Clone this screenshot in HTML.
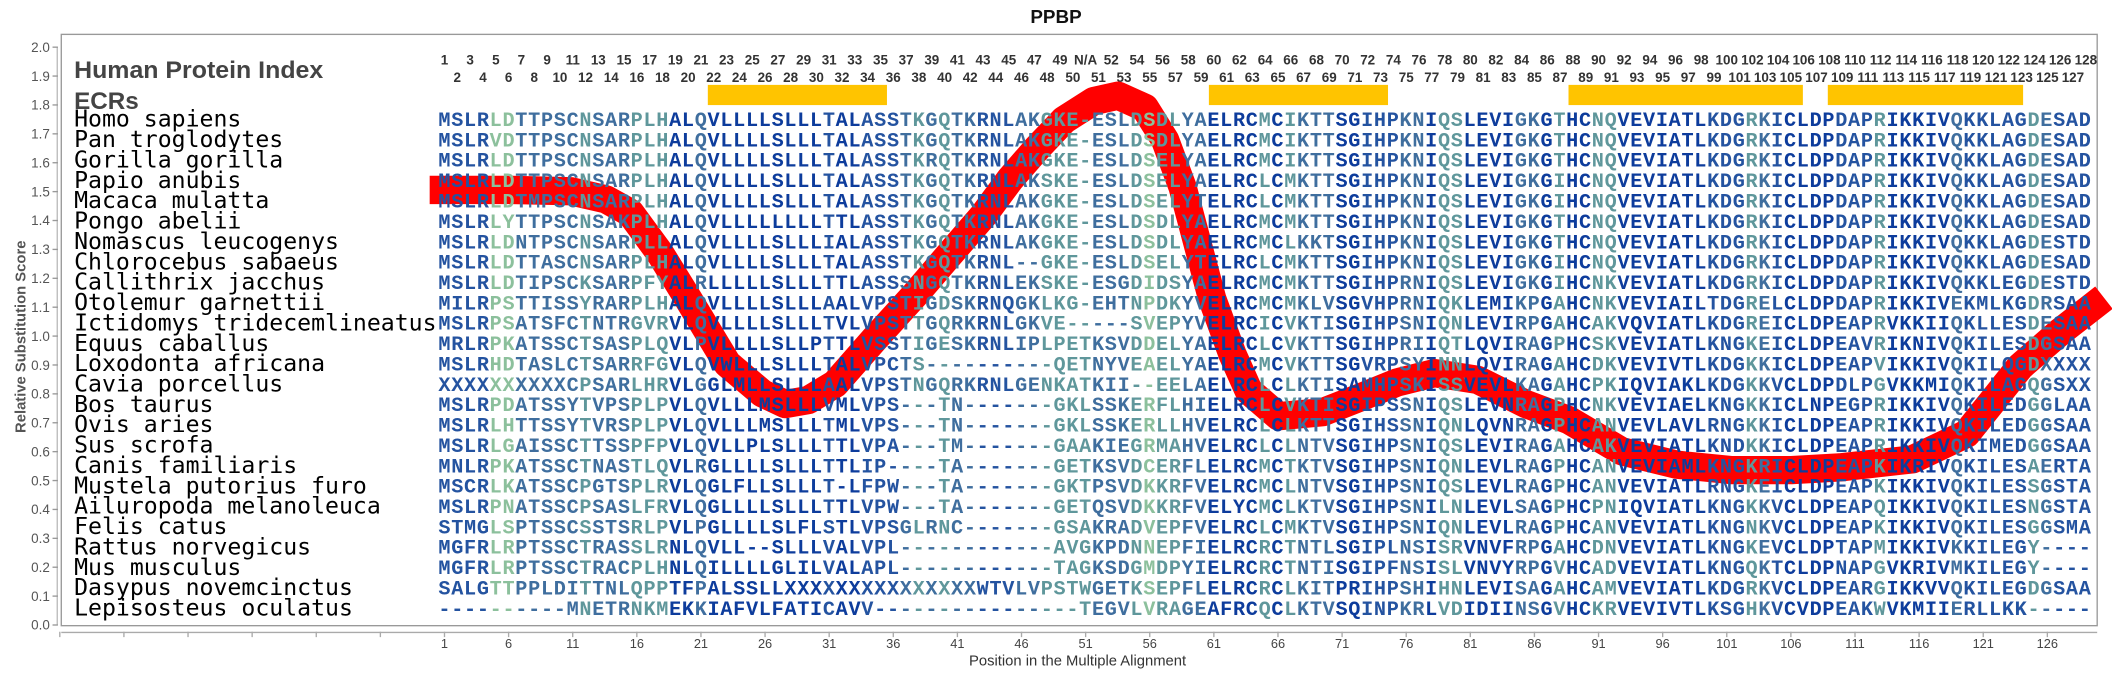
<!DOCTYPE html>
<html><head><meta charset="utf-8"><style>
html,body{margin:0;padding:0;background:#fff;}
svg{display:block;}
.seq{font-family:"Liberation Mono","DejaVu Sans Mono",monospace;font-weight:bold;font-size:15px;letter-spacing:0.52px;fill:url(#cg);}
.nm{font-family:"DejaVu Sans Mono","Liberation Mono",monospace;font-size:17.2px;fill:#000;}
.hn{font-family:"Liberation Sans",sans-serif;font-weight:bold;font-size:10px;fill:#333;text-anchor:middle;}
.yt{font-family:"Liberation Sans",sans-serif;font-size:10px;fill:#555;text-anchor:end;}
.xt{font-family:"Liberation Sans",sans-serif;font-size:9.5px;fill:#444;text-anchor:middle;}
</style></head><body>
<svg width="2112" height="675" viewBox="0 0 1568 501.1" xmlns="http://www.w3.org/2000/svg">
<defs>
<linearGradient id="cg" gradientUnits="userSpaceOnUse" x1="325.5" y1="0" x2="1553.58" y2="0">
<stop offset="0%" stop-color="#2453a0"/><stop offset="3.101%" stop-color="#2453a0"/><stop offset="3.101%" stop-color="#8cc09c"/><stop offset="4.651%" stop-color="#8cc09c"/><stop offset="4.651%" stop-color="#3f6e9e"/><stop offset="8.527%" stop-color="#3f6e9e"/><stop offset="8.527%" stop-color="#5f979b"/><stop offset="9.302%" stop-color="#5f979b"/><stop offset="9.302%" stop-color="#3f6e9e"/><stop offset="11.628%" stop-color="#3f6e9e"/><stop offset="11.628%" stop-color="#5f979b"/><stop offset="13.953%" stop-color="#5f979b"/><stop offset="13.953%" stop-color="#0d3c9c"/><stop offset="15.504%" stop-color="#0d3c9c"/><stop offset="15.504%" stop-color="#3f6e9e"/><stop offset="16.279%" stop-color="#3f6e9e"/><stop offset="16.279%" stop-color="#0d3c9c"/><stop offset="23.256%" stop-color="#0d3c9c"/><stop offset="23.256%" stop-color="#2453a0"/><stop offset="24.031%" stop-color="#2453a0"/><stop offset="24.031%" stop-color="#0d3c9c"/><stop offset="25.581%" stop-color="#0d3c9c"/><stop offset="25.581%" stop-color="#2453a0"/><stop offset="27.907%" stop-color="#2453a0"/><stop offset="27.907%" stop-color="#3f6e9e"/><stop offset="28.682%" stop-color="#3f6e9e"/><stop offset="28.682%" stop-color="#5f979b"/><stop offset="29.457%" stop-color="#5f979b"/><stop offset="29.457%" stop-color="#3f6e9e"/><stop offset="30.233%" stop-color="#3f6e9e"/><stop offset="30.233%" stop-color="#5f979b"/><stop offset="31.008%" stop-color="#5f979b"/><stop offset="31.008%" stop-color="#3f6e9e"/><stop offset="32.558%" stop-color="#3f6e9e"/><stop offset="32.558%" stop-color="#2453a0"/><stop offset="34.884%" stop-color="#2453a0"/><stop offset="34.884%" stop-color="#3f6e9e"/><stop offset="36.434%" stop-color="#3f6e9e"/><stop offset="36.434%" stop-color="#5f979b"/><stop offset="39.535%" stop-color="#5f979b"/><stop offset="39.535%" stop-color="#3f6e9e"/><stop offset="41.860%" stop-color="#3f6e9e"/><stop offset="41.860%" stop-color="#5f979b"/><stop offset="42.636%" stop-color="#5f979b"/><stop offset="42.636%" stop-color="#8cc09c"/><stop offset="43.411%" stop-color="#8cc09c"/><stop offset="43.411%" stop-color="#5f979b"/><stop offset="44.961%" stop-color="#5f979b"/><stop offset="44.961%" stop-color="#3f6e9e"/><stop offset="46.512%" stop-color="#3f6e9e"/><stop offset="46.512%" stop-color="#0d3c9c"/><stop offset="49.612%" stop-color="#0d3c9c"/><stop offset="49.612%" stop-color="#5f979b"/><stop offset="50.388%" stop-color="#5f979b"/><stop offset="50.388%" stop-color="#0d3c9c"/><stop offset="51.163%" stop-color="#0d3c9c"/><stop offset="51.163%" stop-color="#5f979b"/><stop offset="51.938%" stop-color="#5f979b"/><stop offset="51.938%" stop-color="#3f6e9e"/><stop offset="54.264%" stop-color="#3f6e9e"/><stop offset="54.264%" stop-color="#0d3c9c"/><stop offset="55.814%" stop-color="#0d3c9c"/><stop offset="55.814%" stop-color="#2453a0"/><stop offset="58.140%" stop-color="#2453a0"/><stop offset="58.140%" stop-color="#3f6e9e"/><stop offset="59.690%" stop-color="#3f6e9e"/><stop offset="59.690%" stop-color="#0d3c9c"/><stop offset="60.465%" stop-color="#0d3c9c"/><stop offset="60.465%" stop-color="#5f979b"/><stop offset="62.016%" stop-color="#5f979b"/><stop offset="62.016%" stop-color="#0d3c9c"/><stop offset="65.116%" stop-color="#0d3c9c"/><stop offset="65.116%" stop-color="#3f6e9e"/><stop offset="66.667%" stop-color="#3f6e9e"/><stop offset="66.667%" stop-color="#0d3c9c"/><stop offset="67.442%" stop-color="#0d3c9c"/><stop offset="67.442%" stop-color="#5f979b"/><stop offset="68.217%" stop-color="#5f979b"/><stop offset="68.217%" stop-color="#0d3c9c"/><stop offset="69.767%" stop-color="#0d3c9c"/><stop offset="69.767%" stop-color="#5f979b"/><stop offset="71.318%" stop-color="#5f979b"/><stop offset="71.318%" stop-color="#0d3c9c"/><stop offset="76.744%" stop-color="#0d3c9c"/><stop offset="76.744%" stop-color="#2453a0"/><stop offset="79.070%" stop-color="#2453a0"/><stop offset="79.070%" stop-color="#5f979b"/><stop offset="79.845%" stop-color="#5f979b"/><stop offset="79.845%" stop-color="#3f6e9e"/><stop offset="80.620%" stop-color="#3f6e9e"/><stop offset="80.620%" stop-color="#2453a0"/><stop offset="81.395%" stop-color="#2453a0"/><stop offset="81.395%" stop-color="#0d3c9c"/><stop offset="84.496%" stop-color="#0d3c9c"/><stop offset="84.496%" stop-color="#2453a0"/><stop offset="86.822%" stop-color="#2453a0"/><stop offset="86.822%" stop-color="#5f979b"/><stop offset="87.597%" stop-color="#5f979b"/><stop offset="87.597%" stop-color="#0d3c9c"/><stop offset="91.473%" stop-color="#0d3c9c"/><stop offset="91.473%" stop-color="#3f6e9e"/><stop offset="92.248%" stop-color="#3f6e9e"/><stop offset="92.248%" stop-color="#2453a0"/><stop offset="96.124%" stop-color="#2453a0"/><stop offset="96.124%" stop-color="#5f979b"/><stop offset="96.899%" stop-color="#5f979b"/><stop offset="96.899%" stop-color="#3f6e9e"/><stop offset="97.674%" stop-color="#3f6e9e"/><stop offset="97.674%" stop-color="#2453a0"/><stop offset="100%" stop-color="#2453a0"/>
</linearGradient>
</defs>
<rect width="1568" height="501.1" fill="#fff"/>
<text x="784" y="17" text-anchor="middle" font-family="Liberation Sans,sans-serif" font-weight="bold" font-size="14" fill="#111">PPBP</text>
<rect x="45.5" y="25.5" width="1511.5" height="439" fill="none" stroke="#999" stroke-width="1"/>
<line x1="42.5" y1="35" x2="42.5" y2="464" stroke="#bbb"/>
<g stroke="#999">
<line x1="39" y1="35" x2="43" y2="35"/><line x1="39" y1="56.45" x2="43" y2="56.45"/><line x1="39" y1="77.9" x2="43" y2="77.9"/><line x1="39" y1="99.35" x2="43" y2="99.35"/><line x1="39" y1="120.8" x2="43" y2="120.8"/><line x1="39" y1="142.25" x2="43" y2="142.25"/><line x1="39" y1="163.7" x2="43" y2="163.7"/><line x1="39" y1="185.15" x2="43" y2="185.15"/><line x1="39" y1="206.6" x2="43" y2="206.6"/><line x1="39" y1="228.05" x2="43" y2="228.05"/><line x1="39" y1="249.5" x2="43" y2="249.5"/><line x1="39" y1="270.95" x2="43" y2="270.95"/><line x1="39" y1="292.4" x2="43" y2="292.4"/><line x1="39" y1="313.85" x2="43" y2="313.85"/><line x1="39" y1="335.3" x2="43" y2="335.3"/><line x1="39" y1="356.75" x2="43" y2="356.75"/><line x1="39" y1="378.2" x2="43" y2="378.2"/><line x1="39" y1="399.65" x2="43" y2="399.65"/><line x1="39" y1="421.1" x2="43" y2="421.1"/><line x1="39" y1="442.55" x2="43" y2="442.55"/><line x1="39" y1="464" x2="43" y2="464"/>
</g>
<g class="yt">
<text x="37" y="38.5">2.0</text><text x="37" y="60">1.9</text><text x="37" y="81.4">1.8</text><text x="37" y="102.9">1.7</text><text x="37" y="124.3">1.6</text><text x="37" y="145.8">1.5</text><text x="37" y="167.2">1.4</text><text x="37" y="188.7">1.3</text><text x="37" y="210.1">1.2</text><text x="37" y="231.6">1.1</text><text x="37" y="253">1.0</text><text x="37" y="274.5">0.9</text><text x="37" y="295.9">0.8</text><text x="37" y="317.4">0.7</text><text x="37" y="338.8">0.6</text><text x="37" y="360.3">0.5</text><text x="37" y="381.7">0.4</text><text x="37" y="403.2">0.3</text><text x="37" y="424.6">0.2</text><text x="37" y="446.1">0.1</text><text x="37" y="467.5">0.0</text>
</g>
<text transform="translate(19,250) rotate(-90)" text-anchor="middle" font-family="Liberation Sans,sans-serif" font-weight="bold" font-size="11" fill="#555">Relative Substitution Score</text>
<line x1="45.5" y1="469.5" x2="1557" y2="469.5" stroke="#aaa"/>
<g stroke="#aaa">
<line x1="44.4" y1="469" x2="44.4" y2="473"/><line x1="92" y1="469" x2="92" y2="473"/><line x1="139.6" y1="469" x2="139.6" y2="473"/><line x1="187.2" y1="469" x2="187.2" y2="473"/><line x1="234.8" y1="469" x2="234.8" y2="473"/><line x1="282.4" y1="469" x2="282.4" y2="473"/>
<line x1="330" y1="469" x2="330" y2="473"/><line x1="377.6" y1="469" x2="377.6" y2="473"/><line x1="425.2" y1="469" x2="425.2" y2="473"/><line x1="472.8" y1="469" x2="472.8" y2="473"/><line x1="520.4" y1="469" x2="520.4" y2="473"/><line x1="568" y1="469" x2="568" y2="473"/><line x1="615.6" y1="469" x2="615.6" y2="473"/><line x1="663.2" y1="469" x2="663.2" y2="473"/><line x1="710.8" y1="469" x2="710.8" y2="473"/><line x1="758.4" y1="469" x2="758.4" y2="473"/><line x1="806" y1="469" x2="806" y2="473"/><line x1="853.6" y1="469" x2="853.6" y2="473"/><line x1="901.2" y1="469" x2="901.2" y2="473"/><line x1="948.8" y1="469" x2="948.8" y2="473"/><line x1="996.4" y1="469" x2="996.4" y2="473"/><line x1="1044" y1="469" x2="1044" y2="473"/><line x1="1091.6" y1="469" x2="1091.6" y2="473"/><line x1="1139.2" y1="469" x2="1139.2" y2="473"/><line x1="1186.8" y1="469" x2="1186.8" y2="473"/><line x1="1234.4" y1="469" x2="1234.4" y2="473"/><line x1="1282" y1="469" x2="1282" y2="473"/><line x1="1329.6" y1="469" x2="1329.6" y2="473"/><line x1="1377.2" y1="469" x2="1377.2" y2="473"/><line x1="1424.8" y1="469" x2="1424.8" y2="473"/><line x1="1472.4" y1="469" x2="1472.4" y2="473"/><line x1="1520" y1="469" x2="1520" y2="473"/>
</g>
<g class="xt">
<text x="330" y="481">1</text><text x="377.6" y="481">6</text><text x="425.2" y="481">11</text><text x="472.8" y="481">16</text><text x="520.4" y="481">21</text><text x="568" y="481">26</text><text x="615.6" y="481">31</text><text x="663.2" y="481">36</text><text x="710.8" y="481">41</text><text x="758.4" y="481">46</text><text x="806" y="481">51</text><text x="853.6" y="481">56</text><text x="901.2" y="481">61</text><text x="948.8" y="481">66</text><text x="996.4" y="481">71</text><text x="1044" y="481">76</text><text x="1091.6" y="481">81</text><text x="1139.2" y="481">86</text><text x="1186.8" y="481">91</text><text x="1234.4" y="481">96</text><text x="1282" y="481">101</text><text x="1329.6" y="481">106</text><text x="1377.2" y="481">111</text><text x="1424.8" y="481">116</text><text x="1472.4" y="481">121</text><text x="1520" y="481">126</text>
</g>
<text x="800" y="494" text-anchor="middle" font-family="Liberation Sans,sans-serif" font-size="11" fill="#333">Position in the Multiple Alignment</text>
<text x="55" y="58" font-family="Liberation Sans,sans-serif" font-weight="bold" font-size="18" fill="#444" textLength="185" lengthAdjust="spacingAndGlyphs">Human Protein Index</text>
<text x="55" y="81" font-family="Liberation Sans,sans-serif" font-weight="bold" font-size="18" fill="#444">ECRs</text>
<g class="hn">
<text x="330" y="48">1</text><text x="349" y="48">3</text><text x="368.1" y="48">5</text><text x="387.1" y="48">7</text><text x="406.2" y="48">9</text><text x="425.2" y="48">11</text><text x="444.2" y="48">13</text><text x="463.3" y="48">15</text><text x="482.3" y="48">17</text><text x="501.4" y="48">19</text><text x="520.4" y="48">21</text><text x="539.4" y="48">23</text><text x="558.5" y="48">25</text><text x="577.5" y="48">27</text><text x="596.6" y="48">29</text><text x="615.6" y="48">31</text><text x="634.6" y="48">33</text><text x="653.7" y="48">35</text><text x="672.7" y="48">37</text><text x="691.8" y="48">39</text><text x="710.8" y="48">41</text><text x="729.8" y="48">43</text><text x="748.9" y="48">45</text><text x="767.9" y="48">47</text><text x="787" y="48">49</text><text x="806" y="48">N/A</text><text x="825" y="48">52</text><text x="844.1" y="48">54</text><text x="863.1" y="48">56</text><text x="882.2" y="48">58</text><text x="901.2" y="48">60</text><text x="920.2" y="48">62</text><text x="939.3" y="48">64</text><text x="958.3" y="48">66</text><text x="977.4" y="48">68</text><text x="996.4" y="48">70</text><text x="1015.4" y="48">72</text><text x="1034.5" y="48">74</text><text x="1053.5" y="48">76</text><text x="1072.6" y="48">78</text><text x="1091.6" y="48">80</text><text x="1110.6" y="48">82</text><text x="1129.7" y="48">84</text><text x="1148.7" y="48">86</text><text x="1167.8" y="48">88</text><text x="1186.8" y="48">90</text><text x="1205.8" y="48">92</text><text x="1224.9" y="48">94</text><text x="1243.9" y="48">96</text><text x="1263" y="48">98</text><text x="1282" y="48">100</text><text x="1301" y="48">102</text><text x="1320.1" y="48">104</text><text x="1339.1" y="48">106</text><text x="1358.2" y="48">108</text><text x="1377.2" y="48">110</text><text x="1396.2" y="48">112</text><text x="1415.3" y="48">114</text><text x="1434.3" y="48">116</text><text x="1453.4" y="48">118</text><text x="1472.4" y="48">120</text><text x="1491.4" y="48">122</text><text x="1510.5" y="48">124</text><text x="1529.5" y="48">126</text><text x="1548.6" y="48">128</text>
<text x="339.5" y="61">2</text><text x="358.6" y="61">4</text><text x="377.6" y="61">6</text><text x="396.6" y="61">8</text><text x="415.7" y="61">10</text><text x="434.7" y="61">12</text><text x="453.8" y="61">14</text><text x="472.8" y="61">16</text><text x="491.8" y="61">18</text><text x="510.9" y="61">20</text><text x="529.9" y="61">22</text><text x="548.9" y="61">24</text><text x="568" y="61">26</text><text x="587" y="61">28</text><text x="606.1" y="61">30</text><text x="625.1" y="61">32</text><text x="644.1" y="61">34</text><text x="663.2" y="61">36</text><text x="682.2" y="61">38</text><text x="701.3" y="61">40</text><text x="720.3" y="61">42</text><text x="739.3" y="61">44</text><text x="758.4" y="61">46</text><text x="777.4" y="61">48</text><text x="796.5" y="61">50</text><text x="815.5" y="61">51</text><text x="834.5" y="61">53</text><text x="853.6" y="61">55</text><text x="872.6" y="61">57</text><text x="891.7" y="61">59</text><text x="910.7" y="61">61</text><text x="929.7" y="61">63</text><text x="948.8" y="61">65</text><text x="967.8" y="61">67</text><text x="986.9" y="61">69</text><text x="1005.9" y="61">71</text><text x="1024.9" y="61">73</text><text x="1044" y="61">75</text><text x="1063" y="61">77</text><text x="1082.1" y="61">79</text><text x="1101.1" y="61">81</text><text x="1120.1" y="61">83</text><text x="1139.2" y="61">85</text><text x="1158.2" y="61">87</text><text x="1177.3" y="61">89</text><text x="1196.3" y="61">91</text><text x="1215.3" y="61">93</text><text x="1234.4" y="61">95</text><text x="1253.4" y="61">97</text><text x="1272.5" y="61">99</text><text x="1291.5" y="61">101</text><text x="1310.5" y="61">103</text><text x="1329.6" y="61">105</text><text x="1348.6" y="61">107</text><text x="1367.7" y="61">109</text><text x="1386.7" y="61">111</text><text x="1405.7" y="61">113</text><text x="1424.8" y="61">115</text><text x="1443.8" y="61">117</text><text x="1462.9" y="61">119</text><text x="1481.9" y="61">121</text><text x="1500.9" y="61">123</text><text x="1520" y="61">125</text><text x="1539" y="61">127</text>
</g>
<g fill="#ffc400">
<rect x="525.5" y="63" width="133" height="15"/>
<rect x="897.5" y="63" width="133" height="15"/>
<rect x="1164.5" y="63" width="174" height="15"/>
<rect x="1357" y="63" width="145" height="15"/>
</g>
<polyline fill="none" stroke="#ff0000" stroke-width="21" stroke-linejoin="round" points="319,141 380,141 424,142 450,148 468,158 490,188 511,222 540,270 566,292 583,300 600,297 620,285 649,252 680,218 704,190 730,160 750,133 770,110 790,89 812,75 830,71 850,80 865,104 878,139 900,222 915,263 927,290 949,309 982,306 1010,295 1037,284 1065,277 1097,282 1133,300 1165,312 1204,335 1245,345 1285,349 1330,349 1366,347 1420,341 1460,322 1500,272 1530,246 1562,221"/>
<g class="nm">
<text x="55" y="94">Homo sapiens</text>
<text x="55" y="109.1">Pan troglodytes</text>
<text x="55" y="124.2">Gorilla gorilla</text>
<text x="55" y="139.4">Papio anubis</text>
<text x="55" y="154.5">Macaca mulatta</text>
<text x="55" y="169.6">Pongo abelii</text>
<text x="55" y="184.8">Nomascus leucogenys</text>
<text x="55" y="199.9">Chlorocebus sabaeus</text>
<text x="55" y="215">Callithrix jacchus</text>
<text x="55" y="230.1">Otolemur garnettii</text>
<text x="55" y="245.3">Ictidomys tridecemlineatus</text>
<text x="55" y="260.4">Equus caballus</text>
<text x="55" y="275.5">Loxodonta africana</text>
<text x="55" y="290.6">Cavia porcellus</text>
<text x="55" y="305.8">Bos taurus</text>
<text x="55" y="320.9">Ovis aries</text>
<text x="55" y="336">Sus scrofa</text>
<text x="55" y="351.1">Canis familiaris</text>
<text x="55" y="366.3">Mustela putorius furo</text>
<text x="55" y="381.4">Ailuropoda melanoleuca</text>
<text x="55" y="396.5">Felis catus</text>
<text x="55" y="411.6">Rattus norvegicus</text>
<text x="55" y="426.8">Mus musculus</text>
<text x="55" y="441.9">Dasypus novemcinctus</text>
<text x="55" y="457">Lepisosteus oculatus</text>
</g>
<g class="seq">
<text x="325.5" y="93.5">MSLRLDTTPSCNSARPLHALQVLLLLSLLLTALASSTKGQTKRNLAKGKE-ESLDSDLYAELRCMCIKTTSGIHPKNIQSLEVIGKGTHCNQVEVIATLKDGRKICLDPDAPRIKKIVQKKLAGDESAD</text>
<text x="325.5" y="108.6">MSLRVDTTPSCNSARPLHALQVLLLLSLLLTALASSTKGQTKRNLAKGKE-ESLDSDLYAELRCMCIKTTSGIHPKNIQSLEVIGKGTHCNQVEVIATLKDGRKICLDPDAPRIKKIVQKKLAGDESAD</text>
<text x="325.5" y="123.7">MSLRLDTTPSCNSARPLHALQVLLLLSLLLTALASSTKRQTKRNLAKGKE-ESLDSELYAELRCMCIKTTSGIHPKNIQSLEVIGKGTHCNQVEVIATLKDGRKICLDPDAPRIKKIVQKKLAGDESAD</text>
<text x="325.5" y="138.9">MSLRLDTTPSCNSARPLHALQVLLLLSLLLTALASSTKGQTKRNLAKSKE-ESLDSELYAELRCLCMKTTSGIHPKNIQSLEVIGKGIHCNQVEVIATLKDGRKICLDPDAPRIKKIVQKKLAGDESAD</text>
<text x="325.5" y="154">MSLRLDTMPSCNSARPLHALQVLLLLSLLLTALASSTKGQTKRNLAKGKE-ESLDSELYTELRCLCMKTTSGIHPKNIQSLEVIGKGIHCNQVEVIATLKDGRKICLDPDAPRIKKIVQKKLAGDESAD</text>
<text x="325.5" y="169.1">MSLRLYTTPSCNSAKPLHALQVLLLLLLLLTTLASSTKGQTKRNLAKGKE-ESLDSDLYAELRCMCMKTTSGIHPKNIQSLEVIGKGTHCNQVEVIATLKDGRKICLDPDAPRIKKIVQKKLAGDESAD</text>
<text x="325.5" y="184.3">MSLRLDNTPSCNSARPLLALQVLLLLSLLLIALASSTKGQTKRNLAKGKE-ESLDSDLYAELRCMCLKKTSGIHPKNIQSLEVIGKGTHCNQVEVIATLKDGRKICLDPDAPRIKKIVQKKLAGDESTD</text>
<text x="325.5" y="199.4">MSLRLDTTASCNSARPLHALQVLLLLSLLLTALASSTKGQTKRNL--GKE-ESLDSELYTELRCLCMKTTSGIHPKNIQSLEVIGKGIHCNQVEVIATLKDGRKICLDPDAPRIKKIVQKKLAGDESAD</text>
<text x="325.5" y="214.5">MSLRLDTIPSCKSARPFYALRLLLLLSLLLTTLASSSNGQTKRNLEKSKE-ESGDIDSYAELRCMCMKTTSGIHPRNIQSLEVIGKGIHCNKVEVIATLKDGRKICLDPDAPRIKKIVQKKLEGDESTD</text>
<text x="325.5" y="229.6">MILRPSTTISSYRARPLHALQVLLLLSLLLAALVPSTIGDSKRNQGKLKG-EHTNPDKYVELRCMCMKLVSGVHPRNIQKLEMIKPGAHCNKVEVIAILTDGRELCLDPDAPRIKKIVEKMLKGDRSAA</text>
<text x="325.5" y="244.8">MSLRPSATSFCTNTRGVRVLQVLLLLSLLLTVLVPSTTGQRKRNLGKVE-----SVEPYVELRCICVKTISGIHPSNIQNLEVIRPGAHCAKVQVIATLKDGREICLDPEAPRVKKIIQKLLESDESAA</text>
<text x="325.5" y="259.9">MRLRPKATSSCTSASPLQVLPVLLLLSLLPTTLVSSTIGESKRNLIPLPETKSVDDELYAELRCLCVKTTSGIHPRIIQTLQVIRAGPHCSKVEVIATLKNGKEICLDPEAVRIKNIVQKILESDGSAA</text>
<text x="325.5" y="275">MSLRHDTASLCTSARRFGVLQVWLLLSLLLTALVPCTS----------QETNYVEAELYAELRCMCVKTTSGVRPSYINNLQVIRAGAHCDKVEVIVTLKDGKKICLDPEAPVIKKIVQKILQGDXXXX</text>
<text x="325.5" y="290.1">XXXXXXXXXXCPSARLHRVLGGLMLLSLLLAALVPSTNGQRKRNLGENKATKII--EELAELRCLCLKTISAMHPSKISSVEVLKAGAHCPKIQVIAKLKDGKKVCLDPDLPGVKKMIQKILAGQGSXX</text>
<text x="325.5" y="305.3">MSLRPDATSSYTVPSPLPVLQVLLLMSLLLVMLVPS---TN-------GKLSSKERFLHIELRCLCVKTISGIPSSNIQSLEVNRAGPHCNKVEVIAELKNGKKICLNPEGPRIKKIVQKILEDGGLAA</text>
<text x="325.5" y="320.4">MSLRLHTTSSYTVRSPLPVLQVLLLMSLLLTMLVPS---TN-------GKLSSKERLLHVELRCLCLKTTSGIHSSNIQNLQVNRAGPHCANVEVLAVLRNGKKICLDPEAPRIKKIVQKILEDGGSAA</text>
<text x="325.5" y="335.5">MSLRLGAISSCTTSSPFPVLQVLLPLSLLLTTLVPA---TM-------GAAKIEGRMAHVELRCLCLNTVSGIHPSNIQSLEVIRAGAHCAKVEVIATLKNDKKICLDPEAPRIKKIVQKIMEDGGSAA</text>
<text x="325.5" y="350.6">MNLRPKATSSCTNASTLQVLRGLLLLSLLLTTLIP----TA-------GETKSVDCERFLELRCMCTKTVSGIHPSNIQNLEVLRAGPHCANVEVIAMLKNGKRICLDPEAPKIKRIVQKILESAERTA</text>
<text x="325.5" y="365.8">MSCRLKATSSCPGTSPLRVLQGLFLLSLLLT-LFPW---TA-------GKTPSVDKKRFVELRCMCLNTVSGIHPSNIQSLEVLRAGPHCANVEVIATLRNGKEICLDPEAPKIKKIVQKILESSGSTA</text>
<text x="325.5" y="380.9">MSLRPNATSSCPSASLFRVLQGLLLLSLLLTTLVPW---TA-------GETQSVDKKRFVELYCMCLKTVSGIHPSNILNLEVLSAGPHCPNIQVIATLKNGKKVCLDPEAPQIKKIVQKILESNGSTA</text>
<text x="325.5" y="396">STMGLSPTSSCSSTSRLPVLPGLLLLSLFLSTLVPSGLRNC-------GSAKRADVEPFVELRCLCMKTVSGIHPSNIQNLEVLRAGPHCANVEVIATLKNGNKVCLDPEAPKIKKIVQKILESGGSMA</text>
<text x="325.5" y="411.1">MGFRLRPTSSCTRASSLRNLQVLL--SLLLVALVPL------------AVGKPDNNEPFIELRCRCTNTLSGIPLNSISRVNVFRPGAHCDNVEVIATLKNGKEVCLDPTAPMIKKIVKKILEGY----</text>
<text x="325.5" y="426.3">MGFRLRPTSSCTRACPLHNLQILLLLGLILVALAPL------------TAGKSDGMDPYIELRCRCTNTISGIPFNSISLVNVYRPGVHCADVEVIATLKNGQKTCLDPNAPGVKRIVMKILEGY----</text>
<text x="325.5" y="441.4">SALGTTPPLDITTNLQPPTFPALSSLLXXXXXXXXXXXXXXXWTVLVPSTWGETKSEPFLELRCRCLKITPRIHPSHIHNLEVISAGAHCAMVEVIATLKDGRKVCLDPEARGIKKVVQKILEGDGSAA</text>
<text x="325.5" y="456.5">----------MNETRNKMEKKIAFVLFATICAVV----------------TEGVLVRAGEAFRCQCLKTVSQINPKRLVDIDIINSGVHCKRVEVIVTLKSGHKVCVDPEAKWVKMIIERLLKK-----</text>
</g>
</svg>
</body></html>
